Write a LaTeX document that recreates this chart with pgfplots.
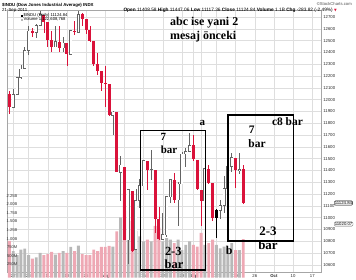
\documentclass[border=0pt]{standalone}
\usepackage{fontspec}
\setmainfont{Liberation Sans}
\newfontfamily\serifb{Liberation Serif}
\newfontfamily\dejavu{DejaVu Sans}
\usepackage{pgfplots}
\pgfplotsset{compat=1.18}
\usepackage{pgfplotstable}

\definecolor{cred}{RGB}{218,18,58}
\definecolor{cgray}{RGB}{100,100,100}
\definecolor{vpink}{RGB}{238,168,180}
\definecolor{vgray}{RGB}{184,184,184}
\definecolor{gridc}{RGB}{222,222,222}

% hollow (up) candles
\pgfplotstableread{
i o h l c
0 11934 12092 11933 12043
1 12043 12193 12043 12188
2 12189 12297 12178 12261
3 12262 12446 12262 12414
4 12415 12626 12376 12582
6 12566 12641 12519 12626
7 12626 12753 12626 12719
11 12446 12625 12446 12492
13 12437 12529 12402 12480
15 12385 12591 12385 12587
17 12572 12751 12572 12724
26 11866 11905 11700 11896
28 11384 11520 11139 11445
30 10810 11244 10604 11240
32 10729 11245 10729 11143
33 11144 11327 11083 11270
34 11269 11492 11269 11483
36 11405 11575 11320 11411
39 10817 11043 10817 10855
40 10854 11177 10838 11177
41 11176 11328 11126 11321
43 11149 11303 10929 11285
44 11286 11557 11286 11540
45 11539 11592 11427 11560
46 11560 11716 11560 11614
50 11140 11415 11140 11415
54 11061 11150 10990 11105
55 11105 11354 11040 11247
56 11247 11434 11247 11434
57 11433 11545 11388 11510
59 11401 11548 11367 11408
}\candG

% filled red (down) candles
\pgfplotstableread{
i o h l c
-1 12050 12070 11875 11934
5 12582 12607 12529 12570
8 12719 12719 12566 12657
9 12655 12655 12450 12505
10 12505 12582 12407 12447
12 12492 12624 12404 12437
14 12479 12479 12283 12385
16 12586 12670 12550 12572
18 12723 12738 12628 12681
19 12680 12680 12554 12592
20 12592 12623 12492 12501
21 12500 12500 12286 12302
22 12301 12398 12206 12240
23 12239 12240 12071 12143
24 12144 12285 11939 12132
25 12131 12135 11862 11867
27 11893 11893 11383 11383
29 11433 11433 10809 10810
31 11229 11229 10711 10720
35 11482 11482 11237 11406
37 11406 11406 10869 10991
38 10989 11088 10813 10818
42 11320 11377 11128 11150
47 11613 11697 11483 11494
48 11492 11492 11231 11240
49 11231 11231 10932 11140
51 11414 11446 11285 11296
52 11294 11294 10973 10993
58 11508 11508 11253 11401
60 11408 11447 11117 11125
}\candR

% filled black candle
\pgfplotstableread{
i o h l c
53 11061 11070 10824 10993
}\candK

% volume, down days (pink)
\pgfplotstableread{
i v
-1 1.07
5 0.55
8 0.65
9 0.68
10 0.75
12 0.72
14 0.72
16 0.77
18 0.68
19 0.65
20 0.65
21 0.81
22 0.77
23 0.89
24 0.89
25 0.92
27 1.34
29 2.45
31 1.65
35 1.10
37 1.50
38 1.45
42 1.00
47 0.95
48 0.90
49 1.30
51 1.00
52 1.10
58 0.80
60 1.12
}\volP

% volume, up days (gray)
\pgfplotstableread{
i v
0 0.77
1 0.65
2 0.81
3 0.84
4 0.65
6 0.59
7 0.72
11 0.67
13 0.77
15 0.89
17 0.93
26 0.90
28 1.75
30 1.95
32 1.35
33 1.20
34 1.05
36 1.05
39 1.05
40 1.15
41 1.10
43 1.10
44 0.80
45 0.95
46 1.05
50 0.95
53 0.95
54 0.85
55 0.90
56 0.85
57 1.00
59 0.80
}\volG

\pgfplotsset{
  base/.style={at={(19,7)}, anchor=south west, scale only axis,
    width=314bp, height=262bp, xmin=-1.565, xmax=80.35},
  wick/.style={draw=none, mark=none, forget plot,
    error bars/.cd, y dir=both, y explicit, error mark=none,
    error bar style={draw=#1, line width=0.6bp}},
  body/.style 2 args={draw=none, mark=none, forget plot,
    error bars/.cd, y dir=both, y explicit, error mark=none,
    error bar style={draw=#1, line width=#2}},
}

\begin{document}
\begin{tikzpicture}[x=1bp,y=1bp]
\useasboundingbox (0,0) rectangle (356,280);

% ---- axis 1: grid and price labels
\begin{axis}[base, ymin=10541.5, ymax=12761.9,
  xtick={0,4,9,14,19,24,29,34,39,44,47,49,53,58,63,68,73,78},
  xticklabels={27,\textbf{Jul},11,18,25,\textbf{Aug},8,15,22,29,\textbf{Sep},6,12,19,26,\textbf{Oct},10,17},
  ytick={10600,10700,...,12700},
  scaled y ticks=false,
  yticklabel pos=right,
  grid=major, major grid style={draw=gridc, line width=0.45bp},
  axis line style={draw=gray!70, line width=0.45bp},
  tick style={draw=none},
  ticklabel style={font=\fontsize{4.3}{5}\selectfont, text=black!85},
  xticklabel style={yshift=1.2bp},
  yticklabel style={anchor=west, xshift=-1.5bp},
  /pgf/number format/.cd, fixed, 1000 sep={}, assume math mode=true]
\end{axis}

% ---- axis 2: volume overlay
\begin{axis}[base, ymin=0, ymax=7.616, hide axis]
\addplot[ybar, bar width=2.9bp, bar shift=0pt, fill=vpink, draw=none] table[x=i,y=v]{\volP};
\addplot[ybar, bar width=2.9bp, bar shift=0pt, fill=vgray, draw=none] table[x=i,y=v]{\volG};
\end{axis}
% volume scale labels (0.25B steps, 34.4 bp per billion above the axis bottom at 7)
\foreach \v/\t in {0.25/250M,0.5/500M,0.75/750M,1/1.00B,1.25/1.25B,1.5/1.50B,1.75/1.75B,2/2.00B,2.25/2.25B}
  \node[anchor=east, inner sep=0, font=\fontsize{4.1}{5}\selectfont, text=black!80] at (17.5,{7+\v*34.4}) {\t};

% ---- axis 3: candles
\begin{axis}[base, ymin=10541.5, ymax=12761.9, hide axis]
% wicks
\addplot[wick=cgray] table[x=i, y expr={(\thisrow{h}+\thisrow{l})/2}, y error expr={(\thisrow{h}-\thisrow{l})/2}]{\candG};
\addplot[wick=cred] table[x=i, y expr={(\thisrow{h}+\thisrow{l})/2}, y error expr={(\thisrow{h}-\thisrow{l})/2}]{\candR};
\addplot[wick=black] table[x=i, y expr={(\thisrow{h}+\thisrow{l})/2}, y error expr={(\thisrow{h}-\thisrow{l})/2}]{\candK};
% bodies
\addplot[body={cgray}{3.1bp}] table[x=i, y expr={(\thisrow{o}+\thisrow{c})/2}, y error expr={abs(\thisrow{c}-\thisrow{o})/2+3}]{\candG};
\addplot[body={white}{1.8bp}] table[x=i, y expr={(\thisrow{o}+\thisrow{c})/2}, y error expr={max(abs(\thisrow{c}-\thisrow{o})/2-3,0)}]{\candG};
\addplot[body={cred}{3.1bp}] table[x=i, y expr={(\thisrow{o}+\thisrow{c})/2}, y error expr={max(abs(\thisrow{c}-\thisrow{o})/2,3)}]{\candR};
\addplot[body={black}{3.1bp}] table[x=i, y expr={(\thisrow{o}+\thisrow{c})/2}, y error expr={max(abs(\thisrow{c}-\thisrow{o})/2,3)}]{\candK};
\end{axis}

% ---- header
\node[anchor=base west, font=\fontsize{4.4}{5}\selectfont\bfseries, inner sep=0] at (2,274) {\$INDU (Dow Jones Industrial Average) INDX};
\node[anchor=base west, font=\fontsize{4.4}{5}\selectfont, inner sep=0] at (2,269) {21-Sep-2011};
\node[anchor=base east, font=\fontsize{4.2}{5}\selectfont, text=black!70, inner sep=0] at (352,274.5) {\copyright StockCharts.com};
\node[anchor=base east, font=\fontsize{4.8}{5}\selectfont, inner sep=0] at (337,269) {\textbf{Open} 11408.58 \textbf{High} 11447.06 \textbf{Low} 11117.36 \textbf{Close} 11124.84 \textbf{Volume} 1.1B \textbf{Chg} -283.82 (-2.49\%) {\dejavu\color{cred}\fontsize{3.5}{4}\selectfont ▼}};
% in-chart legend
\fill[black] (20.5,263.3) rectangle (22.6,265.4);
\node[anchor=base west, font=\fontsize{4.2}{5}\selectfont, inner sep=0] at (23.5,263.5) {\$INDU (Daily) 11124.84};
\fill[vgray] (20.5,259.0) rectangle (22.6,261.1);
\node[anchor=base west, font=\fontsize{4.2}{5}\selectfont, inner sep=0] at (23.5,259.2) {Volume 1,122,608,768};
% right-side value tags
\node[draw=black, rounded corners=1.2bp, fill=white, inner sep=0.6bp, anchor=west, font=\fontsize{4.3}{5}\selectfont] at (334,77) {11124.84};
\node[draw=black!60, rounded corners=1.2bp, fill=white, inner sep=0.6bp, anchor=west, font=\fontsize{4.3}{5}\selectfont] at (334,56) {11020.07};

% ---- annotations
\draw[black, line width=1.8bp] (140.5,10) rectangle (205.5,149.5);
\draw[black, line width=1.8bp] (228,39) rectangle (293.5,165);
\begin{scope}[every node/.style={inner sep=0, font=\serifb\bfseries}]
\node[anchor=west, font=\serifb\bfseries\fontsize{12}{13}\selectfont] at (170,257) {abc ise yani 2};
\node[anchor=west, font=\serifb\bfseries\fontsize{12}{13}\selectfont] at (170,243.5) {mesaj önceki};
\node[font=\serifb\bfseries\fontsize{11}{12}\selectfont] at (163.3,143.5) {7};
\node[font=\serifb\bfseries\fontsize{11}{12}\selectfont] at (169,130) {bar};
\node[font=\serifb\bfseries\fontsize{11}{12}\selectfont] at (202.3,157) {a};
\node[font=\serifb\bfseries\fontsize{11.5}{12}\selectfont] at (251.7,150) {7};
\node[font=\serifb\bfseries\fontsize{11.5}{12}\selectfont] at (257,136) {bar};
\node[font=\serifb\bfseries\fontsize{11.5}{12}\selectfont] at (287.5,158.3) {c8 bar};
\node[font=\serifb\bfseries\fontsize{12.5}{13}\selectfont] at (173.3,28.3) {2-3};
\node[font=\serifb\bfseries\fontsize{12.5}{13}\selectfont] at (174,15.5) {bar};
\node[font=\serifb\bfseries\fontsize{12}{13}\selectfont] at (229.3,30) {b};
\node[font=\serifb\bfseries\fontsize{13}{14}\selectfont] at (268,48.3) {2-3};
\node[font=\serifb\bfseries\fontsize{13}{14}\selectfont] at (268,34.5) {bar};
\end{scope}
\end{tikzpicture}
\end{document}
